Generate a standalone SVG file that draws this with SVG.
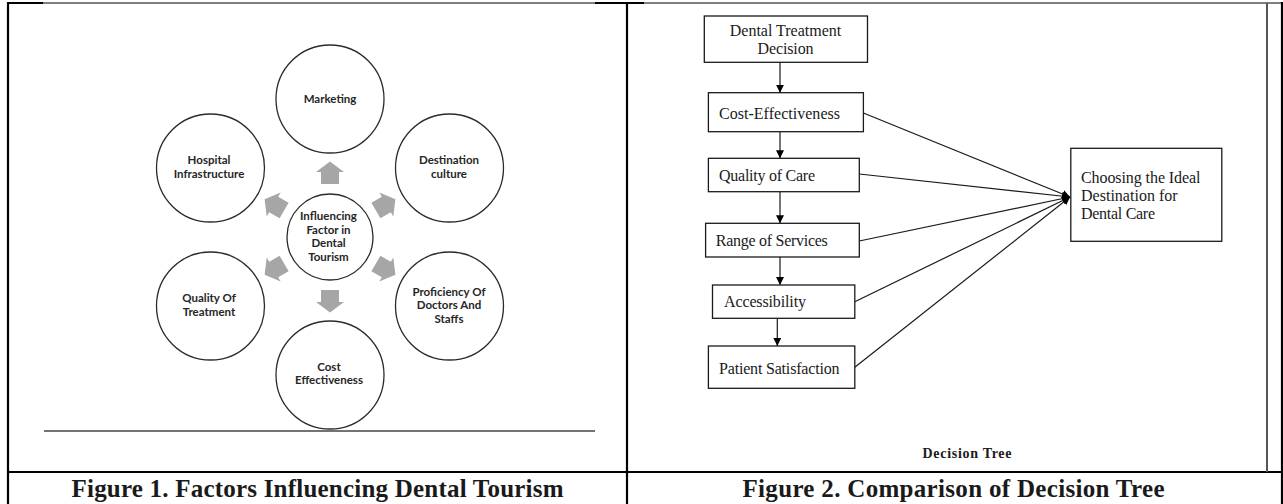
<svg xmlns="http://www.w3.org/2000/svg" width="1283" height="504" viewBox="0 0 1283 504">
<style>
.circ{fill:#fff;stroke:#2b2b2b;stroke-width:1.3}
.ct{font-family:Lato,"Open Sans",sans-serif;font-size:11.5px;font-weight:bold;fill:#262626;text-anchor:middle}
.box{fill:#fff;stroke:#1a1a1a;stroke-width:1.3}
.bt{font-family:"Liberation Serif",serif;font-size:16px;fill:#1a1a1a}
.garrow{fill:#a6a6a6}
.conn{stroke:#1a1a1a;stroke-width:1.2;fill:none;marker-end:url(#ah)}
.cap{font-family:"Liberation Serif",serif;font-size:25px;font-weight:bold;fill:#1a1a1a}
.frame{stroke:#000;stroke-width:2.2;fill:none}
</style>
<defs>
<marker id="ah" viewBox="0 0 10 10" refX="10" refY="5" markerWidth="8" markerHeight="8" markerUnits="userSpaceOnUse" orient="auto">
<path d="M0,0 L10,5 L0,10 Z" fill="#000"/>
</marker>
<path id="bar" d="M-9,-53 L-9,-65 L-14,-65 L0,-75.5 L14,-65 L9,-65 L9,-53 Z"/>
</defs>
<rect width="1283" height="504" fill="#fff"/>

<g id="frame">
<line x1="8" y1="3" x2="1283" y2="3" stroke="#000" stroke-width="1"/>
<line x1="8" y1="3" x2="43" y2="3" class="frame"/>
<line x1="595" y1="3" x2="644" y2="3" class="frame"/>
<line x1="8" y1="2" x2="8" y2="504" class="frame"/>
<line x1="627" y1="2" x2="627" y2="504" class="frame"/>
<line x1="1282" y1="2" x2="1282" y2="504" class="frame"/>
<line x1="8" y1="472" x2="1283" y2="472" class="frame"/>
<line x1="1267" y1="3" x2="1267" y2="472" stroke="#555" stroke-width="2"/>
<line x1="44" y1="431" x2="595" y2="431" stroke="#444" stroke-width="1.3"/>
</g>

<g id="fig1-arrows">
<use href="#bar" class="garrow" transform="translate(330,237) rotate(0)"/>
<use href="#bar" class="garrow" transform="translate(330,237) rotate(60)"/>
<use href="#bar" class="garrow" transform="translate(330,237) rotate(120)"/>
<use href="#bar" class="garrow" transform="translate(330,237) rotate(180)"/>
<use href="#bar" class="garrow" transform="translate(330,237) rotate(240)"/>
<use href="#bar" class="garrow" transform="translate(330,237) rotate(300)"/>
</g>

<g id="n-marketing"><circle class="circ" cx="330" cy="99" r="54"/><text class="ct" x="330" y="102.5">Marketing</text></g>
<g id="n-hospital"><circle class="circ" cx="210.5" cy="168" r="54"/><text class="ct" x="209" y="164">Hospital</text><text class="ct" x="209" y="177.5">Infrastructure</text></g>
<g id="n-destination"><circle class="circ" cx="449.5" cy="168" r="54"/><text class="ct" x="449" y="164">Destination</text><text class="ct" x="449" y="177.5">culture</text></g>
<g id="n-quality"><circle class="circ" cx="210.5" cy="306" r="54"/><text class="ct" x="209" y="302">Quality Of</text><text class="ct" x="209" y="316">Treatment</text></g>
<g id="n-proficiency"><circle class="circ" cx="449.5" cy="306" r="54"/><text class="ct" x="449" y="295.5">Proficiency Of</text><text class="ct" x="449" y="309">Doctors And</text><text class="ct" x="449" y="322.5">Staffs</text></g>
<g id="n-cost"><circle class="circ" cx="330" cy="375" r="54"/><text class="ct" x="329" y="370.5">Cost</text><text class="ct" x="329" y="384">Effectiveness</text></g>
<g id="n-center"><circle class="circ" cx="330" cy="237" r="43"/><text class="ct" x="328.5" y="220">Influencing</text><text class="ct" x="328.5" y="233.5">Factor in</text><text class="ct" x="328.5" y="247">Dental</text><text class="ct" x="328.5" y="260.5">Tourism</text></g>

<g id="connectors">
<line class="conn" x1="780" y1="62.3" x2="780" y2="92.7"/>
<line class="conn" x1="780" y1="131.7" x2="780" y2="158.3"/>
<line class="conn" x1="780" y1="191.7" x2="780" y2="223.3"/>
<line class="conn" x1="780" y1="257" x2="780" y2="285"/>
<line class="conn" x1="777.3" y1="318.3" x2="777.3" y2="346"/>
<line class="conn" x1="863.4" y1="113" x2="1070" y2="197"/>
<line class="conn" x1="859.3" y1="174" x2="1070" y2="197"/>
<line class="conn" x1="859.3" y1="241" x2="1070" y2="197"/>
<line class="conn" x1="854.8" y1="301.7" x2="1070" y2="197"/>
<line class="conn" x1="854.8" y1="367.3" x2="1070" y2="197"/>
</g>

<g id="b-dental"><rect class="box" x="704.3" y="16" width="163.2" height="46.3"/><text class="bt" x="785.5" y="35.5" text-anchor="middle" textLength="111.5">Dental Treatment</text><text class="bt" x="785.5" y="54" text-anchor="middle" textLength="56">Decision</text></g>
<g id="b-cost"><rect class="box" x="708.4" y="92.7" width="155" height="39"/><text class="bt" x="719" y="119" textLength="121">Cost-Effectiveness</text></g>
<g id="b-quality"><rect class="box" x="708.4" y="158.3" width="150.9" height="33.4"/><text class="bt" x="719" y="180.5" textLength="96">Quality of Care</text></g>
<g id="b-range"><rect class="box" x="705.6" y="223.3" width="153.7" height="33.7"/><text class="bt" x="715.8" y="246" textLength="112">Range of Services</text></g>
<g id="b-access"><rect class="box" x="712.5" y="285" width="142.3" height="33.3"/><text class="bt" x="724" y="307" textLength="82">Accessibility</text></g>
<g id="b-patient"><rect class="box" x="708.4" y="346" width="146.4" height="42.3"/><text class="bt" x="719" y="374" textLength="120.5">Patient Satisfaction</text></g>
<g id="b-choosing"><rect class="box" x="1070.8" y="148.3" width="151" height="93"/><text class="bt" x="1081" y="183" textLength="119.5">Choosing the Ideal</text><text class="bt" x="1081" y="200.5" textLength="96.6">Destination for</text><text class="bt" x="1081" y="219" textLength="74">Dental Care</text></g>

<g id="labels">
<text x="967" y="457.5" text-anchor="middle" font-family="'Liberation Serif',serif" font-size="14px" font-weight="bold" fill="#1a1a1a" textLength="89">Decision Tree</text>
<text class="cap" x="71.5" y="496.5" textLength="492">Figure 1. Factors Influencing Dental Tourism</text>
<text class="cap" x="742.5" y="496.5" textLength="422">Figure 2. Comparison of Decision Tree</text>
</g>
</svg>
